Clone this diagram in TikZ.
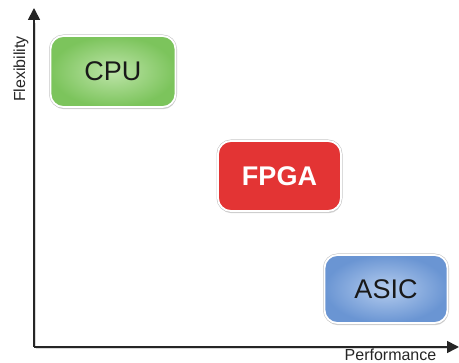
\documentclass[tikz,border=0pt]{standalone}
\usepackage{fontspec}
\setmainfont{Liberation Sans}
\usetikzlibrary{arrows.meta,shadows}
\definecolor{cpuout}{HTML}{7CC45C}
\definecolor{cpuin}{HTML}{BDE4A8}
\definecolor{fpgared}{HTML}{E33434}
\definecolor{asicout}{HTML}{6A95D3}
\definecolor{asicin}{HTML}{B4CCEE}
\tikzset{
  box/.style={draw=white, line width=1.8pt, rounded corners=13pt, inner sep=0pt,
    drop shadow={opacity=0.35, shadow xshift=0.6pt, shadow yshift=-2.2pt},
    preaction={draw=black!22, line width=3pt}},
  axis/.style={line width=1.7pt, draw=black!85, -{Triangle[length=12pt,width=12pt]}},
  axlabel/.style={font=\fontsize{16}{16}\selectfont, text=black!85, inner sep=0pt},
  boxtext/.style={font=\fontsize{27}{27}\selectfont, inner sep=0pt}
}
\begin{document}
\begin{tikzpicture}[x=1pt,y=-1pt]
\useasboundingbox (0,0) rectangle (459,363);
% boxes
\node[box, shading=radial, inner color=cpuin, outer color=cpuout, minimum width=125pt, minimum height=71pt] (cpu) at (113,71.5) {};
\node[box, fill=fpgared, minimum width=123pt, minimum height=70pt] (fpga) at (279.5,176) {};
\node[box, shading=radial, inner color=asicin, outer color=asicout, minimum width=123pt, minimum height=68pt] (asic) at (386,289) {};
\node[boxtext, text=black!90] (cputxt) at (cpu.center) {CPU};
\node[boxtext, text=white, font=\fontsize{27}{27}\selectfont\bfseries] (fpgatxt) at (fpga.center) {FPGA};
\node[boxtext, text=black!90] (asictxt) at (asic.center) {ASIC};
% axes
\coordinate (o) at (34,347);
\coordinate (ytip) at (34,8);
\coordinate (xtip) at (459,347);
\draw[line width=1.6pt, black!15] ([xshift=1.5pt,yshift=-1.5pt]o) -- ([xshift=1.5pt,yshift=-1.5pt]ytip |- 0,22);
\draw[line width=1.6pt, black!15] ([xshift=1.5pt,yshift=-1.5pt]o) -- ([xshift=1.5pt,yshift=-1.5pt]448,347);
\draw[axis] (o) -- (ytip);
\draw[axis] (o) -- (xtip);
\node[axlabel, rotate=90] (flex) at (21,69) {Flexibility};
\node[axlabel] (perf) at (390.5,355) {Performance};
\end{tikzpicture}
\end{document}
